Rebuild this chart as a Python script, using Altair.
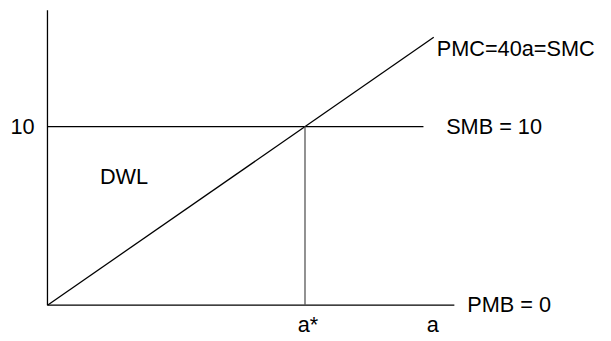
import altair as alt
import pandas as pd

# ---- model values ----
a_star = 0.25        # 40a = 10  ->  a* = 0.25
smb_value = 10       # SMB = 10
pmb_value = 0        # PMB = 0
pmc_slope = 40       # PMC = 40a = SMC
a_pmc_end = 0.375    # PMC line drawn up to here
a_smb_end = 0.365    # SMB line drawn up to here
a_axis_end = 0.395   # horizontal axis length
y_top = 16.52        # vertical axis length
x_max = 0.5393

FONT = "Liberation Sans"
FS = 22

W, H = 563, 299

xs = alt.Scale(domain=[0, x_max], nice=False, zero=False)
ys = alt.Scale(domain=[0, y_top], nice=False, zero=False)

segs = pd.DataFrame({
    "x": [0, 0, 0, 0],
    "y": [0, pmb_value, smb_value, 0],
    "x2": [0, a_axis_end, a_smb_end, a_pmc_end],
    "y2": [y_top, pmb_value, smb_value, pmc_slope * a_pmc_end],
})
vline = pd.DataFrame({"x": [a_star], "y": [0], "x2": [a_star], "y2": [smb_value]})

def rules(df, color):
    return alt.Chart(df).mark_rule(color=color, strokeWidth=1.3).encode(
        x=alt.X("x:Q", scale=xs, axis=None),
        y=alt.Y("y:Q", scale=ys, axis=None),
        x2="x2:Q", y2="y2:Q",
    )

def label(text, x, y, align="left", dx=0, dy=0, baseline="middle"):
    df = pd.DataFrame({"t": [text], "x": [x], "y": [y]})
    return alt.Chart(df).mark_text(
        align=align, baseline=baseline, dx=dx, dy=dy, font=FONT, fontSize=FS, color="black"
    ).encode(
        x=alt.X("x:Q", scale=xs, axis=None),
        y=alt.Y("y:Q", scale=ys, axis=None),
        text="t:N",
    )

chart = alt.layer(
    rules(segs, "black"),
    rules(vline, "#555555"),
    label("10", 0, smb_value, align="right", dx=-13),
    label("SMB = 10", a_smb_end, smb_value, dx=23),
    label("PMC=40a=SMC", a_pmc_end, pmc_slope * a_pmc_end, dx=3, dy=12),
    label("PMB = 0", a_axis_end, pmb_value, dx=13),
    label("a*", a_star, 0, align="center", dx=3, baseline="alphabetic", dy=27),
    label("a", a_pmc_end, 0, align="center", dx=-1, baseline="alphabetic", dy=27),
    label("DWL", a_star * 0.2, smb_value * 0.72, dx=1),
).properties(
    width=W, height=H,
    padding={"left": 40, "top": 0, "right": 0, "bottom": 30},
    autosize="none",
).configure_view(stroke=None)

chart.save("out.html", embed_options={"renderer": "svg", "actions": False})
